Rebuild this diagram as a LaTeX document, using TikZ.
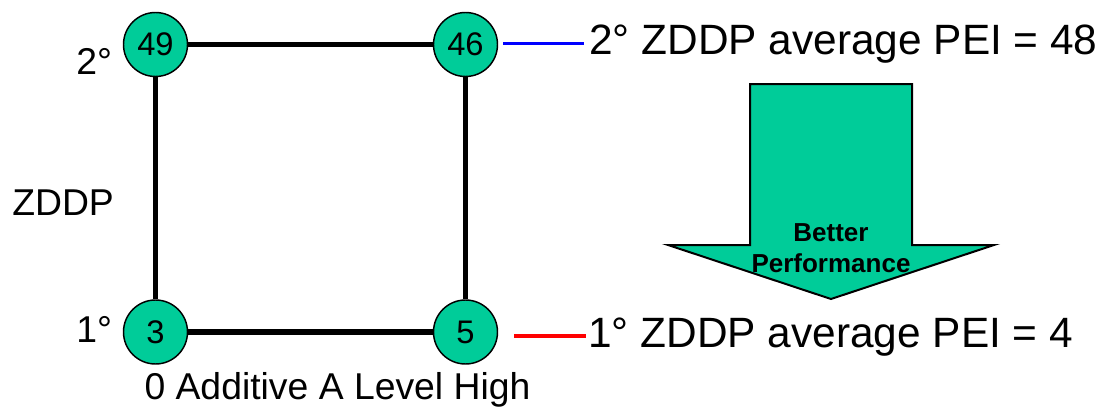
\documentclass[tikz,border=0pt]{standalone}
\usepackage{fontspec}
\setmainfont{Liberation Sans}
\usetikzlibrary{calc,positioning}
\definecolor{pointgreen}{HTML}{00CC99}
\definecolor{lineblue}{HTML}{0000FF}
\definecolor{linered}{HTML}{FF0000}

\begin{document}
\begin{tikzpicture}[
    x=0.75pt, y=-0.75pt,
    point/.style={circle, draw=black, line width=1.1pt, fill=pointgreen,
      minimum size=48pt, inner sep=0pt, font=\fontsize{24.5}{28}\selectfont},
    edge/.style={line width=4.3pt, draw=black},
    axislabel/.style={inner sep=0pt, font=\fontsize{28}{33}\selectfont},
    average/.style={inner sep=0pt, anchor=base west, font=\fontsize{31.8}{36}\selectfont},
    leader/.style={line width=2.5pt},
    bigarrow/.style={draw=black, line width=1.5pt, fill=pointgreen, line join=miter}
  ]
    \useasboundingbox (0,0) rectangle (1101,407);

    \node[point] (p49) at (155.5,44.5) {49};
    \node[point] (p46) at (465.5,44.5) {46};
    \node[point] (p3) at (155.5,332) {3};
    \node[point] (p5) at (465.5,332) {5};

    \draw[edge] (p49) -- (p46);
    \draw[edge] (p3) -- (p5);
    \draw[edge] (p49) -- (p3);
    \draw[edge] (p46) -- (p5);

    \node[axislabel, anchor=base west] (second) at (76,74) {2°};
    \node[axislabel, anchor=base west] (first) at (76,342) {1°};
    \node[axislabel, anchor=base west] (zddp) at (12,215) {ZDDP};
    \node[axislabel, anchor=base] (additive) at (337.5,399) {0 Additive A Level High};

    \node[average] (avgsecond) at (589,55) {2° ZDDP average PEI = 48};
    \node[average] (avgfirst) at (588,347) {1° ZDDP average PEI = 4};

    \draw[leader, lineblue] ($(p46.east)+(5,-1)$) -- ($(avgsecond.west |- p46.east)+(-5,-1)$);
    \draw[leader, linered] ($(p5.east)+(16,4)$) -- ($(avgfirst.west |- p5.east)+(-2,4)$);

    \draw[bigarrow] (750,84) -- (912,84) -- (912,245) -- (994,245) -- (831,299)
      -- (668,245) -- (750,245) -- cycle;
    \node[align=center, inner sep=0pt, font=\fontsize{19.5}{23.3}\selectfont\bfseries]
      (better) at (831,248) {Better\\Performance};
\end{tikzpicture}
\end{document}
